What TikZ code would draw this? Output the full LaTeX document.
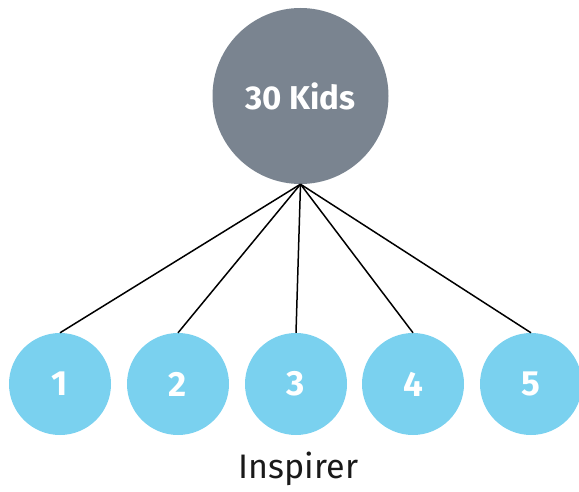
\documentclass[tikz,border=0pt]{standalone}
\usepackage{fontspec}
\setmainfont{Fira Sans}
\definecolor{kidgray}{HTML}{7A8490}
\definecolor{kidblue}{HTML}{7AD1EF}
\begin{document}
\begin{tikzpicture}[x=1pt,y=1pt,
  bigc/.style={circle,fill=kidgray,minimum size=176pt,inner sep=0pt,text=white,font=\fontsize{33}{33}\selectfont\bfseries},
  smallc/.style={circle,fill=kidblue,minimum size=102pt,inner sep=0pt,text=white,font=\fontsize{35}{35}\selectfont\bfseries},
  link/.style={draw=black,line width=1.5pt}]
\useasboundingbox (0,0) rectangle (579,491);
\node[bigc] (top) at (300.5,395) {30 Kids};
\node[smallc] (k1) at (60,107) {1};
\node[smallc] (k2) at (178,107) {2};
\node[smallc] (k3) at (296,107) {3};
\node[smallc] (k4) at (413,107) {4};
\node[smallc] (k5) at (531,107) {5};
\foreach \i in {1,...,5} \draw[link] (top.south) -- (k\i.north);
\node[font=\fontsize{34}{34}\selectfont, text=black!90, anchor=base] (lab) at (298.5,13) {Inspirer};
\end{tikzpicture}
\end{document}
